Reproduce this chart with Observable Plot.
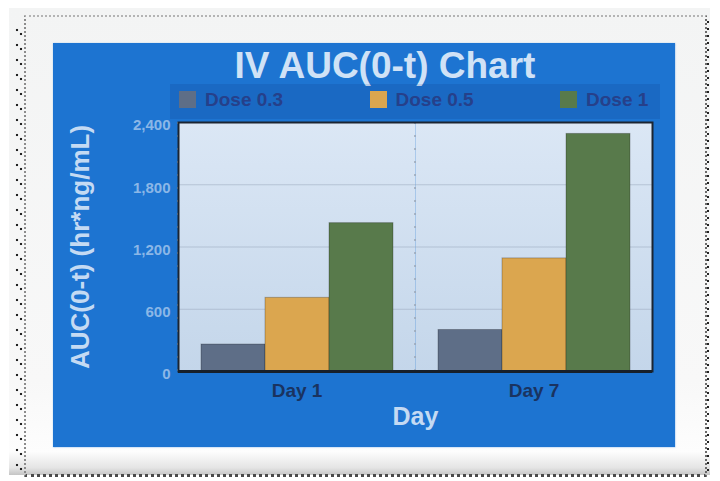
<!DOCTYPE html>
<html>
<head>
<meta charset="utf-8">
<script src="https://cdn.jsdelivr.net/npm/d3@7"></script>
<script src="https://cdn.jsdelivr.net/npm/@observablehq/plot@0.6"></script>
<style>
  html, body { margin: 0; padding: 0; background: #ffffff; }
  body { width: 720px; height: 481px; position: relative; overflow: hidden;
         font-family: "Liberation Sans", Arial, sans-serif; }
  #sheet { position: absolute; left: 9px; top: 8px; width: 701px; height: 467px;
           background: linear-gradient(#f3f4f4, #f8f8f8 80%, #fdfdfd 95%, #e4e4e4 98.5%, #c4c4c4); }
  #border { position: absolute; left: 24px; top: 15px; width: 679px; height: 457px;
            border-top: 2px dotted #b4b4b4; border-left: 2px dotted #8c8c8c;
            border-right: 2px dotted #6a6a6a; border-bottom: 3px dotted #4a4a4a; }
  #leftDots { position: absolute; left: 15px; top: 28px; width: 9px; height: 446px;
              background-image: radial-gradient(circle at 2px 2px, #222 1.1px, transparent 1.6px),
                                radial-gradient(circle at 6px 6px, #222 1.1px, transparent 1.6px);
              background-size: 9px 15px; }
  #rightDots { position: absolute; left: 706px; top: 20px; width: 4px; height: 454px;
               background-image: radial-gradient(circle at 2px 2px, #222 1px, transparent 1.5px);
               background-size: 4px 7px; }
  #panel { position: absolute; left: 53px; top: 43px; width: 622px; height: 404px;
           background: #1d74d1; box-shadow: 0 0 1.5px 0.5px #7fb2ea; }
  #title { position: absolute; left: 185px; top: 47px; width: 400px; text-align: center;
           font-size: 37px; line-height: 37px; font-weight: bold; color: #d0e2f6; white-space: nowrap; }
  #legend { position: absolute; left: 170px; top: 84px; width: 490px; height: 35px;
            background: rgba(8, 36, 96, 0.12); }
  .item { position: absolute; top: 0; height: 35px; }
  .swatch { position: absolute; left: 9px; top: 7px; width: 17px; height: 17px; }
  .label { position: absolute; left: 35px; top: 6px; font-size: 19px; line-height: 19px;
           font-weight: bold; color: #26408a; white-space: nowrap; }
  #chart { position: absolute; left: 53px; top: 43px; width: 622px; height: 404px; }
</style>
</head>
<body>
<div id="sheet"></div>
<div id="border"></div>
<div id="leftDots"></div>
<div id="rightDots"></div>
<div id="panel"></div>
<div id="title">IV AUC(0-t) Chart</div>
<div id="legend"></div>
<div id="chart"></div>
<svg width="0" height="0" style="position:absolute">
  <defs>
    <linearGradient id="plotBg" x1="0" y1="0" x2="0" y2="1">
      <stop offset="0" stop-color="#dbe7f5"/>
      <stop offset="1" stop-color="#c4d6ea"/>
    </linearGradient>
  </defs>
</svg>
<script>
// Study days and dose groups
const days = ["Day 1", "Day 7"];
const doses = ["Dose 0.3", "Dose 0.5", "Dose 1"];

// AUC(0-t) in hr*ng/mL, one value per day
const dose03 = [260, 400];
const dose05 = [710, 1090];
const dose1 = [1430, 2290];

const yTicks = [0, 600, 1200, 1800, 2400];
const doseColors = ["#5e6e87", "#dba64f", "#587a4b"];

const series = [dose03, dose05, dose1];
const rows = days.flatMap((day, i) =>
  doses.map((dose, j) => ({day, dose, auc: series[j][i]}))
);

// Legend row above the plot
const legend = document.getElementById("legend");
doses.forEach((dose, j) => {
  const item = document.createElement("div");
  item.className = "item";
  item.style.left = (j * 190.5) + "px";
  item.innerHTML = `<div class="swatch" style="background:${doseColors[j]}"></div><div class="label">${dose}</div>`;
  legend.appendChild(item);
});

// Dotted divider drawn at the left edge of each day facet
function facetDivider(index, scales, values, dimensions) {
  const {marginLeft, marginTop, marginBottom, height} = dimensions;
  const ns = "http://www.w3.org/2000/svg";
  const line = document.createElementNS(ns, "line");
  line.setAttribute("x1", marginLeft);
  line.setAttribute("x2", marginLeft);
  line.setAttribute("y1", marginTop);
  line.setAttribute("y2", height - marginBottom);
  line.setAttribute("stroke", "#9aa6b6");
  line.setAttribute("stroke-width", 1.5);
  line.setAttribute("stroke-dasharray", "2,11");
  return line;
}

const chart = Plot.plot({
  width: 622,
  height: 404,
  marginLeft: 125,
  marginRight: 23,
  marginTop: 79,
  marginBottom: 76,
  style: {background: "transparent", overflow: "visible", fontFamily: '"Liberation Sans", Arial, sans-serif'},
  fx: {domain: days, padding: 0},
  x: {domain: doses, paddingInner: 0, paddingOuter: 0.35, axis: null},
  y: {domain: [0, 2400]},
  color: {domain: doses, range: doseColors},
  marks: [
    Plot.frame({fill: "url(#plotBg)"}),
    Plot.gridY(yTicks.slice(1, -1), {stroke: "#8d9db2", strokeOpacity: 0.45, strokeWidth: 1}),
    facetDivider,
    Plot.barY(rows, {fx: "day", x: "dose", y: "auc", fill: "dose", stroke: "#000", strokeOpacity: 0.25, strokeWidth: 1}),
    Plot.frame({facet: "super", stroke: "#1b2431", strokeWidth: 2}),
    Plot.ruleY([0], {stroke: "#17202b", strokeWidth: 3}),
    Plot.axisY({ticks: yTicks, tickFormat: d3.format(","), tickSize: 0, tickPadding: 8, dy: 3,
                fontSize: 15, fontWeight: "bold", fill: "#8bb7e7", label: null}),
    Plot.axisY({ticks: [], label: "AUC(0-t) (hr*ng/mL)", labelAnchor: "center", labelArrow: "none",
                labelOffset: 108, fontSize: 26, fontWeight: "bold", fill: "#c4daf3"}),
    Plot.axisFx({anchor: "bottom", tickSize: 0, tickPadding: 12, fontSize: 19, fontWeight: "bold",
                 fill: "#1a3360", label: null}),
    Plot.axisFx({anchor: "bottom", ticks: [], label: "Day", labelAnchor: "center", labelArrow: "none",
                 labelOffset: 53, fontSize: 25, fontWeight: "bold", fill: "#c4daf3"})
  ]
});

document.getElementById("chart").appendChild(chart);
</script>
</body>
</html>
